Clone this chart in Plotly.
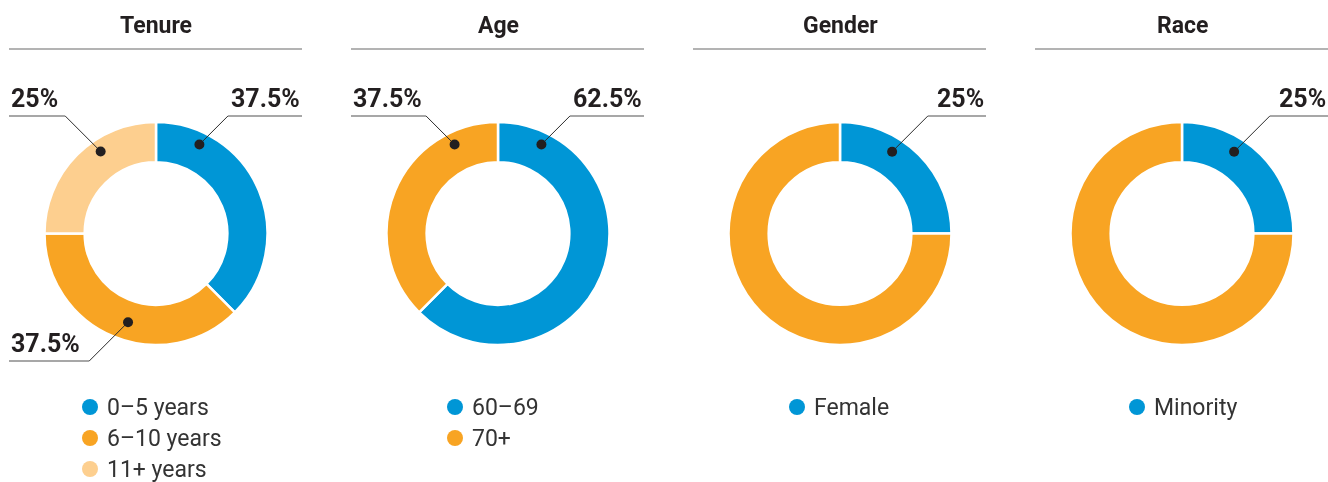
import math
import plotly.graph_objects as go

W, H = 1328, 482

# ---- data ----
titles = ["Tenure", "Age", "Gender", "Race"]
tenure_labels = ["0–5 years", "6–10 years", "11+ years"]
tenure_values = [37.5, 37.5, 25]
age_labels = ["60–69", "70+"]
age_values = [62.5, 37.5]
gender_labels = ["Female", "Male"]
gender_values = [25, 75]
race_labels = ["Minority", "Non-minority"]
race_values = [25, 75]
legend_counts = [3, 2, 1, 1]   # categories shown in each legend

BLUE, ORANGE, LIGHT = "#0096d6", "#f8a423", "#fdcf8f"
panels = [
    (tenure_labels, tenure_values, [BLUE, ORANGE, LIGHT]),
    (age_labels, age_values, [BLUE, ORANGE]),
    (gender_labels, gender_values, [BLUE, ORANGE]),
    (race_labels, race_values, [BLUE, ORANGE]),
]
# callouts: (slice index, side, angle from top (deg, clockwise), radius px, line y)
callouts = [
    [(0, "right", 26, 99, 116), (2, "left", -34, 99, 116), (1, "left", 197.5, 93, 361)],
    [(0, "right", 26, 99, 116), (1, "left", -26, 99, 116)],
    [(0, "right", 32.5, 97, 116)],
    [(0, "right", 32.5, 97, 116)],
]

FONT = "Roboto"
TXT = "#231f20"
GRAY = "#8a8a8a"

fig = go.Figure()
# invisible trace so the pixel-scaled overlay axes exist
fig.add_trace(go.Scatter(x=[0, W], y=[0, H], mode="markers", opacity=0,
                         hoverinfo="skip", showlegend=False))
shapes, annotations = [], []

R_OUT = 111.5
CY = 233.5
for i, (labels, values, colors) in enumerate(panels):
    cx = 156 + 342 * i
    fig.add_trace(go.Pie(
        labels=labels, values=values, sort=False, direction="clockwise",
        rotation=0, hole=0.64, textinfo="none", hoverinfo="label+percent",
        marker=dict(colors=colors, line=dict(color="white", width=2.5)),
        domain=dict(x=[(cx - R_OUT) / W, (cx + R_OUT) / W],
                    y=[(H - CY - R_OUT) / H, (H - CY + R_OUT) / H]),
        showlegend=False,
    ))
    left, right = cx - 147, cx + 146
    # title + rule
    annotations.append(dict(x=cx, y=25, text=f"<b>{titles[i]}</b>", showarrow=False,
                            xanchor="center", yanchor="middle",
                            font=dict(family=FONT, size=23, color=TXT)))
    shapes.append(dict(type="line", x0=left, x1=right, y0=49, y1=49,
                       line=dict(color="#9a9a9a", width=1.5), layer="above"))
    # callouts
    for (k, side, ang, rad, ly) in callouts[i]:
        a = math.radians(ang)
        dx, dy = cx + rad * math.sin(a), CY - rad * math.cos(a)
        ex = dx + abs(dy - ly) if side == "right" else dx - abs(dy - ly)
        shapes.append(dict(type="line", x0=dx, y0=dy, x1=ex, y1=ly,
                           line=dict(color="#2a2a2a", width=1), layer="above"))
        hx = right if side == "right" else left
        shapes.append(dict(type="line", x0=ex, y0=ly, x1=hx, y1=ly,
                           line=dict(color=GRAY, width=1.5), layer="above"))
        shapes.append(dict(type="circle", x0=dx - 5, x1=dx + 5, y0=dy - 5, y1=dy + 5,
                           fillcolor="#231f20", line=dict(width=0), layer="above"))
        annotations.append(dict(x=hx, y=ly - 18, text=f"<b>{values[k]:g}%</b>",
                                showarrow=False,
                                xanchor="right" if side == "right" else "left",
                                yanchor="middle",
                                font=dict(family=FONT, size=25, color=TXT)))
    # legend
    lx = [90, 455, 797, 1137][i]
    for j in range(legend_counts[i]):
        ly = 407 + 31 * j
        shapes.append(dict(type="circle", x0=lx - 8, x1=lx + 8, y0=ly - 8, y1=ly + 8,
                           fillcolor=colors[j], line=dict(width=0), layer="above"))
        annotations.append(dict(x=lx + 15, y=ly, text=labels[j], showarrow=False,
                                xanchor="left", yanchor="middle",
                                font=dict(family=FONT, size=23, color="#333333")))

fig.update_layout(
    width=W, height=H, margin=dict(l=0, r=0, t=0, b=0),
    paper_bgcolor="white", plot_bgcolor="rgba(0,0,0,0)",
    xaxis=dict(range=[0, W], visible=False, domain=[0, 1], fixedrange=True),
    yaxis=dict(range=[H, 0], visible=False, domain=[0, 1], fixedrange=True),
    shapes=shapes, annotations=annotations, showlegend=False,
)
fig.write_html("out.html", config={"displayModeBar": False},
               post_script="document.body.style.margin='0';document.body.style.overflow='hidden';")
